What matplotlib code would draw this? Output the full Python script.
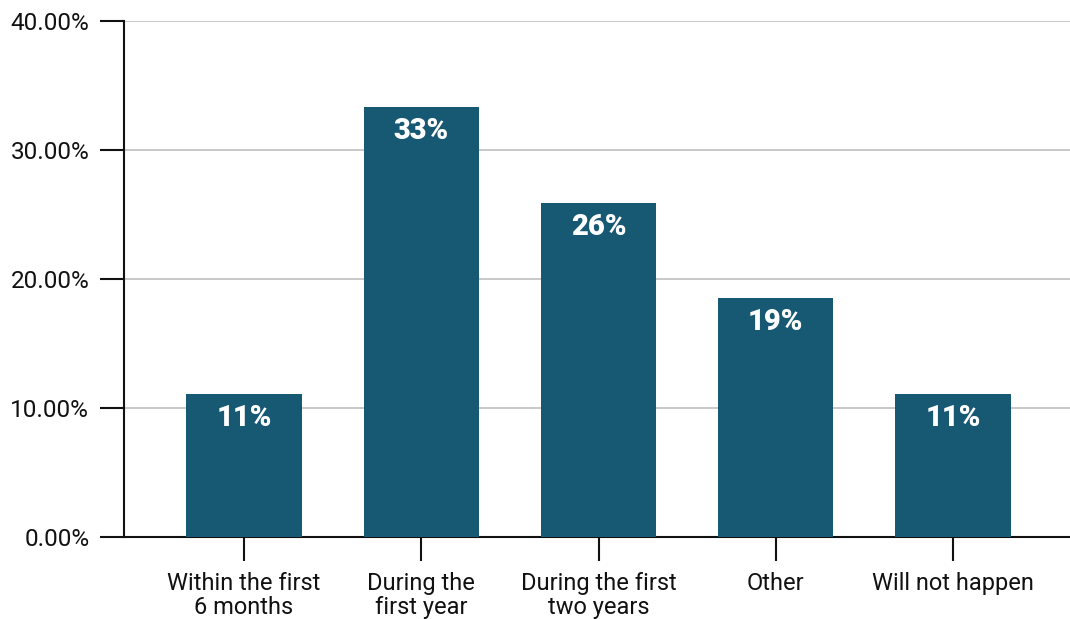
import matplotlib
matplotlib.use("Agg")
import matplotlib.pyplot as plt
from matplotlib.ticker import FuncFormatter

categories = ["Within the first\n6 months", "During the\nfirst year", "During the first\ntwo years", "Other", "Will not happen"]
values = [11.11, 33.33, 25.93, 18.52, 11.11]
labels = ["11%", "33%", "26%", "19%", "11%"]

plt.rcParams['font.family'] = ['Roboto', 'DejaVu Sans']

fig = plt.figure(figsize=(10.7, 6.19), dpi=100)
ax = fig.add_axes([0.1159, 0.1325, 0.8841, 0.8335])

x = list(range(len(categories)))
bars = ax.bar(x, values, width=0.65, color="#175873", zorder=3)
for b, lab in zip(bars, labels):
    ax.annotate(lab, (b.get_x() + b.get_width() / 2, b.get_height()),
                xytext=(0, -17.5), textcoords="offset points", ha="center", va="center",
                color="white", fontsize=21, fontweight="heavy", zorder=4)

ax.set_xlim(-0.677, 4.66)
ax.set_ylim(0, 40)
ax.set_yticks([0, 10, 20, 30, 40])
ax.yaxis.set_major_formatter(FuncFormatter(lambda v, p: f"{v:.2f}%"))
ax.set_xticks(x)
ax.set_xticklabels(categories, linespacing=1.05)
ax.grid(axis="y", color="#c4c4c4", linewidth=1.3, zorder=0)
ax.tick_params(axis="y", length=17, width=1.5, pad=8, labelsize=17.5, colors="#111111")
ax.tick_params(axis="x", length=17, width=1.5, pad=8.5, labelsize=17, colors="#111111")
for s in ["top", "right"]:
    ax.spines[s].set_visible(False)
for s in ["left", "bottom"]:
    ax.spines[s].set_linewidth(1.5)
    ax.spines[s].set_color("#111111")

fig.savefig("out.png", dpi=100)
